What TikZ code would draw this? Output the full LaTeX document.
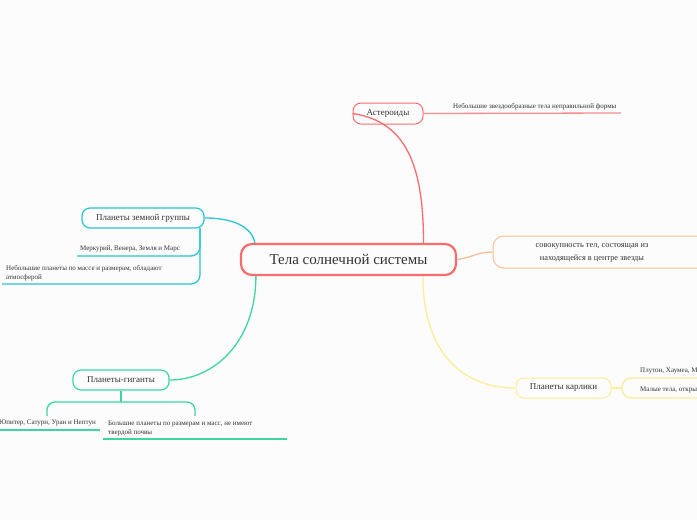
\documentclass[tikz,border=0pt]{standalone}
\usepackage{fontspec}
\setmainfont{Liberation Serif}
\usetikzlibrary{calc}
\definecolor{bgc}{RGB}{252,252,252}
\definecolor{txt}{RGB}{50,50,50}
\definecolor{redc}{RGB}{247,108,108}
\definecolor{redl}{RGB}{248,140,140}
\definecolor{orc}{RGB}{253,190,150}
\definecolor{yec}{RGB}{252,238,150}
\definecolor{cyc}{RGB}{40,198,212}
\definecolor{grc}{RGB}{60,214,165}
\tikzset{
  box/.style={draw, rounded corners=8pt, line width=1pt, inner sep=0pt, text=txt, font=\fontsize{9}{10}\selectfont},
  small/.style={inner sep=0pt, text=txt, font=\fontsize{7}{9}\selectfont, align=left},
  conn/.style={line width=1.3pt},
}
\begin{document}
\begin{tikzpicture}[x=1pt,y=-1pt]
\useasboundingbox (0,0) rectangle (697,520);
\clip (0,0) rectangle (697,520);
\fill[bgc] (0,0) rectangle (697,520);

% central
\node[box, draw=redc, line width=2.2pt, rounded corners=11pt, minimum width=215pt, minimum height=31pt, font=\fontsize{15}{17}\selectfont] (c) at (348.5,259.5) {Тела солнечной системы};

% asteroids
\node[box, draw=redc, minimum width=70pt, minimum height=21pt] (ast) at (388,113.5) {Астероиды};
\node[small, anchor=south west] (astt) at (453,110) {Небольшие звездообразные тела неправильной формы};
\coordinate (astend) at (621,113);
\draw[redl, conn] (ast.east) -- (astend);
\coordinate (castp) at (c.north -| ast.east);
\draw[redc, conn] (ast.west) .. controls ($(ast.west)+(55,8)$) and ($(castp)+(0,-75)$) .. (castp);

% orange
\node[box, draw=orc, minimum width=220pt, minimum height=32pt, rounded corners=11pt] (sov) at (603,252) {};
\node[inner sep=0pt, text=txt, font=\fontsize{8.3}{13}\selectfont, align=center] (sovt) at (592,252.5) {совокупность тел, состоящая из\\находящейся в центре звезды};
\draw[orc, conn] (c.east) .. controls ($(c.east)+(15,-2)$) and ($(sov.west)+(-15,0)$) .. (sov.west);

% dwarf planets
\node[box, draw=yec, minimum width=95pt, minimum height=20pt] (dw) at (563.5,388) {Планеты карлики};
\coordinate (cdw) at ($(c.south west)+(183,0)$);
\draw[yec, conn] (cdw) .. controls ($(cdw)+(0,80)$) and ($(dw.west)+(-50,0)$) .. (dw.west);
\coordinate (dwb) at (622,388);
\draw[yec, conn] (dw.east) -- (dwb);
\draw[yec, conn, rounded corners=9pt] (705,378) -- (622,378) -- (622,398) -- (705,398);
\node[small, anchor=south west] (dw1) at (640,374) {Плутон, Хаумеа, Макемаке};
\node[small, anchor=south west] (dw2) at (640,393.5) {Малые тела, открытые за орбитой Нептуна};

% earth group
\node[box, draw=cyc, line width=1.2pt, minimum width=122pt, minimum height=20pt] (eg) at (143,218) {Планеты земной группы};
\coordinate (ceg) at ($(c.north west)+(15,0)$);
\draw[cyc, conn] (eg.east) .. controls ($(eg.east)+(35,0)$) and ($(ceg)+(-2,-12)$) .. (ceg);
\coordinate (egb) at (200,228);
\coordinate (eg1e) at (77,256);
\coordinate (eg2e) at (2,284);
\draw[cyc, conn, rounded corners=9pt] (egb) -- (200,256) -- (eg1e);
\draw[cyc, conn, rounded corners=9pt] (egb) -- (200,284) -- (eg2e);
\node[small, anchor=south west] (eg1) at (80,252.5) {Меркурий, Венера, Земля и Марс};
\node[small, anchor=south west] (eg2) at (6,281) {Небольшие планеты по массе и размерам, обладают\\атмосферой};

% giants
\node[box, draw=grc, line width=1.2pt, minimum width=96pt, minimum height=20pt] (gi) at (121,380) {Планеты-гиганты};
\coordinate (cgi) at ($(c.south west)+(16,0)$);
\draw[grc, conn] (cgi) .. controls ($(cgi)+(0,65)$) and ($(gi.east)+(45,0)$) .. (gi.east);
\coordinate (gib) at (121,402);
\draw[grc, conn] (gi.south) -- (gib);
\draw[grc, conn, rounded corners=8pt] (47,416) -- (47,402) -- (195,402) -- (195,416);
\node[small, anchor=south east] (gi1) at (96,426.5) {Юпитер, Сатурн, Уран и Нептун};
\coordinate (gi1a) at (-3,430);
\coordinate (gi1b) at (100,430);
\draw[grc, conn] (gi1a) -- (gi1b);
\node[small, anchor=south west] (gi2) at (108,436) {Большие планеты по размерам и масс, не имеют\\твердой почвы};
\coordinate (gi2a) at (103,439);
\coordinate (gi2b) at (287,439);
\draw[grc, conn] (gi2a) -- (gi2b);
\end{tikzpicture}
\end{document}
